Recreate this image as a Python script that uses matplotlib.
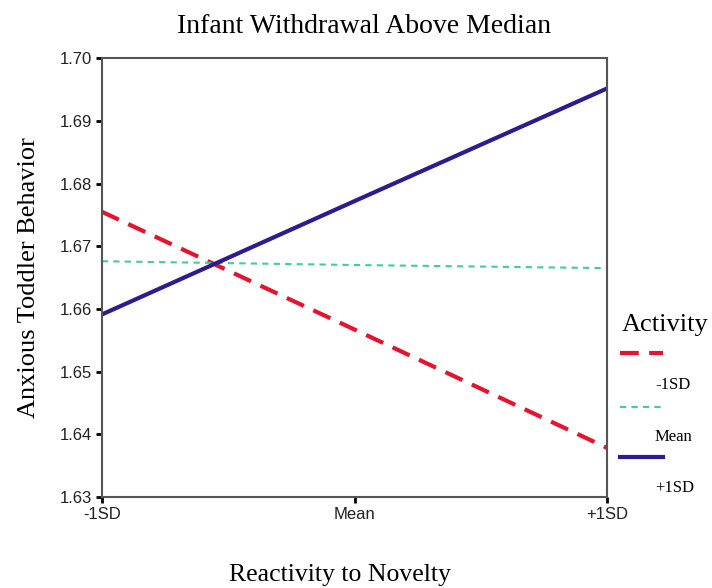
import matplotlib
matplotlib.use('Agg')
import matplotlib.pyplot as plt
from matplotlib.lines import Line2D

x_labels = ['-1SD', 'Mean', '+1SD']
activity_levels = ['-1SD', 'Mean', '+1SD']
low_activity = [1.6755, 1.6567, 1.6378]
mean_activity = [1.6676, 1.6670, 1.6665]
high_activity = [1.6591, 1.6772, 1.6952]

colors = ['#e8122d', '#3dcf9c', '#2d1b8f']
serif = 'Liberation Serif'
sans = 'Liberation Sans'

fig = plt.figure(figsize=(7.12, 5.88), dpi=100)
ax = fig.add_axes([0.143, 0.155, 0.71, 0.746])

xs = range(len(x_labels))
ax.plot(xs, low_activity, color=colors[0], lw=3, dashes=(4.5, 2.5))
ax.plot(xs, mean_activity, color=colors[1], lw=1.5, dashes=(3, 2.5))
ax.plot(xs, high_activity, color=colors[2], lw=3)

ax.set_xlim(0, 2)
ax.set_ylim(1.63, 1.70)
ax.set_xticks(list(xs))
ax.set_xticklabels(x_labels, fontsize=12, family=sans, color='#222222')
ax.set_yticks([1.63, 1.64, 1.65, 1.66, 1.67, 1.68, 1.69, 1.70])
ax.set_yticklabels(['%.2f' % v for v in ax.get_yticks()], fontsize=12, family=sans, color='#222222')
ax.tick_params(direction='out', length=4, width=2, color='black', pad=3)
for s in ax.spines.values():
    s.set_color('#555555')
    s.set_linewidth(1.5)

ax.set_title('Infant Withdrawal Above Median', family=serif, fontsize=20, pad=18, x=0.519)
ax.set_xlabel('Reactivity to Novelty', family=serif, fontsize=18.5)
ax.xaxis.set_label_coords(0.471, -0.152)
ax.set_ylabel('Anxious Toddler Behavior', family=serif, fontsize=19, labelpad=14)

# SPSS-style legend with labels below each line sample
H = 588.0
W = 712.0
fig.text(622 / W, 1 - 325 / H, 'Activity', family=serif, fontsize=19, va='center')
line_y = [353, 407, 457]
text_y = [385, 437, 488]
styles = [dict(lw=3, dashes=(4.5, 2.5)), dict(lw=1.5, dashes=(3, 2.5)), dict(lw=3)]
for lab, c, ly, ty, st in zip(activity_levels, colors, line_y, text_y, styles):
    fig.add_artist(Line2D([620 / W, 663 / W], [1 - ly / H, 1 - ly / H], color=c, **st))
    fig.text(655 / W, 1 - ty / H, lab, family=serif, fontsize=12, va='center')

fig.savefig('out.png', dpi=100)
